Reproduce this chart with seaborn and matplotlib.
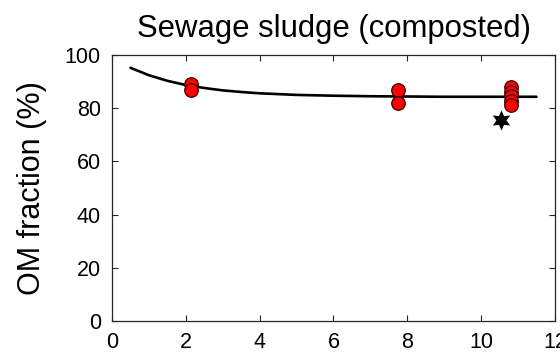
import matplotlib
matplotlib.use("Agg")
import matplotlib.pyplot as plt
import seaborn as sns
import pandas as pd

# Fitted decay curve of organic-matter fraction vs. time
curve_x = [0.5, 1.0, 1.5, 2.0, 2.5, 3.0, 3.5, 4.0, 5.0, 6.0, 7.0, 8.0, 9.0, 10.0, 11.5]
curve_y = [95.2, 92.4, 90.3, 88.7, 87.6, 86.7, 86.1, 85.6, 85.0, 84.7, 84.5, 84.4, 84.3, 84.3, 84.3]

# Measured samples
obs_x = [2.15, 2.15, 7.75, 7.75, 10.8, 10.8, 10.8, 10.8, 10.8]
obs_y = [89.2, 87.0, 86.9, 81.8, 87.8, 86.2, 84.5, 82.8, 81.1]

# Reference value
ref_x = [10.55]
ref_y = [75.6]

x_ticks = [0, 2, 4, 6, 8, 10, 12]
y_ticks = [0, 20, 40, 60, 80, 100]

sns.set_style("ticks")
plt.rcParams["font.family"] = ["Liberation Sans", "DejaVu Sans"]

fig = plt.figure(figsize=(5.6, 3.54), dpi=100)
ax = fig.add_axes([0.2, 0.0932, 0.791, 0.7514])

curve = pd.DataFrame({"t": curve_x, "om": curve_y})
obs = pd.DataFrame({"t": obs_x, "om": obs_y})
ref = pd.DataFrame({"t": ref_x, "om": ref_y})

sns.lineplot(data=curve, x="t", y="om", ax=ax, color="black", linewidth=1.9, zorder=2)
sns.scatterplot(data=obs, x="t", y="om", ax=ax, color="#ff0000", edgecolor="#3a0000",
                linewidth=0.9, s=95, zorder=3)
sns.scatterplot(data=ref, x="t", y="om", ax=ax, color="black", marker=(6, 1, 0),
                s=210, linewidth=0, zorder=4)

ax.set_xlim(0, 12)
ax.set_ylim(0, 100)
ax.set_xticks(x_ticks)
ax.set_yticks(y_ticks)
ax.tick_params(direction="in", length=4, width=0.8, top=True, right=True,
               labelsize=15.5, pad=8, colors="#262626", labelcolor="black")
for sp in ax.spines.values():
    sp.set_visible(True)
    sp.set_color("#262626")
    sp.set_linewidth(0.9)

ax.set_xlabel("")
ax.set_ylabel("OM fraction (%)", fontsize=22, labelpad=13, color="black")
ax.set_title("Sewage sludge (composted)", fontsize=22.4, pad=13, color="black")

fig.savefig("out.png", dpi=100)
